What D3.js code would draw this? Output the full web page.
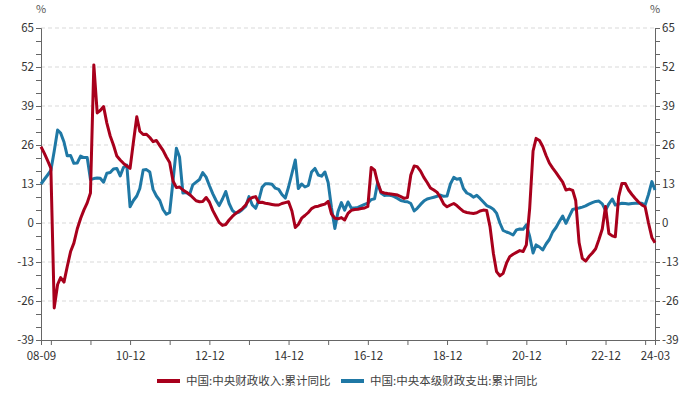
<!DOCTYPE html>
<html>
<head>
<meta charset="utf-8">
<script src="https://cdn.jsdelivr.net/npm/d3@7"></script>
<style>
  body { margin: 0; background: #fff; }
  svg text { font-family: "Microsoft YaHei", "Noto Sans CJK SC", "Open Sans", sans-serif; }
</style>
</head>
<body>
<div id="chart"></div>
<script>
// monthly series, 2008-09 .. 2024-03
const startMonth = '2008-09';
const endMonth = '2024-03';

const seriesNames = ['中国:中央财政收入:累计同比', '中国:中央本级财政支出:累计同比'];
const seriesColors = ['#a8001c', '#1f78a5'];

const revenue = [
	25.4, 23.3, 20.8, 18.3, -28.3, -20.5, -18.2, -19.7, -14.5, -9.5, -6.7, -2, 1.5, 4.3, 6.7, 10,
	52.7, 36.7, 37.5, 38.8, 33.3, 29, 26, 22.3, 21, 19.9, 19, 18.2,
	27, 35.4, 30.6, 29.5, 29.6, 28.5, 27.1, 27.5, 25.8, 24.2, 22, 20.2,
	14, 11.8, 12, 11, 10.3, 9.6, 8.5, 7.4, 7.1, 7.2, 8.5, 7,
	4.2, 2.1, 0.2, -0.8, -0.5, 1, 2.2, 3.2, 4, 4.8, 6, 7.8,
	8.5, 8.8, 6.8, 6.9, 6.6, 6.4, 6.2, 6, 6, 6.5, 6.8, 7.1,
	4, -1.5, -0.5, 1.6, 2.5, 3.5, 4.8, 5.4, 5.6, 6, 6.3, 7.2,
	3, 1.6, 1.4, 1.8, 1, 3.2, 4.2, 4.5, 4.6, 4.8, 5, 5.5,
	18.5, 17.6, 13.5, 10.4, 10, 9.8, 9.7, 9.5, 9.3, 8.8, 8.2, 8.5,
	16, 19, 18.8, 17.3, 15.2, 13.5, 11.7, 11, 10.2, 8.5, 6.3, 5.4,
	6, 6.5, 5.8, 4.8, 3.9, 3.5, 3.3, 3.2, 3.4, 4, 4.3, 4.2,
	-1.2, -10.1, -16.2, -17.6, -16.8, -13.4, -11.2, -10.4, -9.8, -9.2, -9.5, -7.3,
	5, 24, 28.2, 27.5, 25.5, 22.5, 20, 18.3, 16.8, 15.2, 13.6, 11,
	11.3, 10.9, 7.5, -6.5, -11.8, -12.7, -11.2, -10, -8.6, -5.5, -2, 5.5,
	-3.5, -4.3, -4.6, 8.8, 13.2, 13.2, 11, 9.5, 8.2, 7, 6, 5.4,
	0, -4.8, -6.6
];

const expenditure = [
	13, 14.5, 16, 17.5, 24, 31, 30, 27, 22.4, 22.5, 19.9, 20, 22.3, 21.8, 21.8, 14.5,
	14.8, 15, 14.9, 13.6, 16.6, 16.8, 18, 18.2, 15.7, 18.5, 19.3, 5.4,
	7.5, 9, 11.5, 17.7, 17.8, 17, 11.2, 9, 7.5, 4.5, 2.9, 3.5,
	14, 24.9, 22, 10, 10.2, 9.4, 12.7, 13.6, 14.5, 16.8, 15.3, 12.5,
	9.8, 7.5, 5.8, 8, 10.5, 6.5, 4.2, 3.2, 3.6, 4.5, 5.5, 8.8,
	6, 4.9, 7.5, 11.9, 13.1, 13.1, 12.9, 11.6, 11.2, 9.5, 8.3, 12,
	16.5, 21, 11.5, 13, 12, 12.5, 17, 18.2, 16, 15.6, 17, 13.5,
	5, -1.8, 3.8, 6.8, 4.3, 7, 5, 5, 5.2, 5.7, 6.2, 6.6,
	7.8, 8.1, 13.5, 10, 9.2, 9.3, 9.2, 8.8, 8.2, 7.5, 7.2, 7.1,
	6.5, 4, 4.9, 6.2, 7.3, 8, 8.3, 8.6, 8.9, 9.3, 8.9, 9,
	13, 15.2, 14.6, 14.8, 11.5, 10, 9.5, 8.6, 9.2, 8.2, 7, 5.8,
	5.3, 4.6, 3.3, 0, -2.5, -3, -3.4, -4, -2.3, -2, -2.1, -0.6,
	-4.5, -10, -7.3, -8, -9, -7, -5.5, -3, -1.5, 0.5, 2.3, -0.1,
	2.2, 4.5, 4.8, 5, 5.3, 5.7, 6.3, 6.8, 7.2, 7.3, 6.4, 4.2,
	6.4, 8, 6, 6.3, 6.6, 6.5, 6.3, 6.5, 6.6, 6.6, 6.6, 6,
	9.5, 13.8, 11
];

const yTicks = [-39, -26, -13, 0, 13, 26, 39, 52, 65];
const xTickLabels = ['08-09', '10-12', '12-12', '14-12', '16-12', '18-12', '20-12', '22-12', '24-03'];

//------------------------------------------------------------------------------
const W = 691, H = 397;
const margin = {t: 28, r: 36, b: 57, l: 41};

const parse = d3.timeParse('%Y-%m');
const fmt = d3.timeFormat('%y-%m');
const months = d3.timeMonth.range(parse(startMonth), d3.timeMonth.offset(parse(endMonth), 1));

const x = d3.scaleTime()
	.domain([months[0], months[months.length - 1]])
	.range([margin.l, W - margin.r]);
const y = d3.scaleLinear()
	.domain([-39, 65])
	.range([H - margin.b, margin.t]);

const svg = d3.select('#chart').append('svg')
	.attr('width', W)
	.attr('height', H);

// grid lines
svg.append('g').selectAll('line')
	.data(yTicks.filter(function(d) { return d > -39; }))
	.enter().append('line')
	.attr('x1', margin.l).attr('x2', W - margin.r)
	.attr('y1', function(d) { return y(d); })
	.attr('y2', function(d) { return y(d); })
	.attr('stroke', '#d9d9d9')
	.attr('stroke-dasharray', '4,3');

// y axes, minor ticks every 13/3
const yAll = d3.range(0, 25).map(function(k) { return -39 + k * 13 / 3; });
const yFormat = function(d) {
	const r = Math.round(d);
	return (Math.abs(d - r) < 1e-6 && r % 13 === 0) ? r : '';
};

const yl = svg.append('g')
	.attr('transform', 'translate(' + margin.l + ',0)')
	.call(d3.axisLeft(y).tickValues(yAll).tickFormat(yFormat).tickSize(5).tickPadding(2));
const yr = svg.append('g')
	.attr('transform', 'translate(' + (W - margin.r) + ',0)')
	.call(d3.axisRight(y).tickValues(yAll).tickFormat(yFormat).tickSize(5).tickPadding(2));

[yl, yr].forEach(function(g) {
	g.select('.domain').attr('stroke', '#666');
	g.selectAll('.tick line').attr('stroke', '#666');
	g.selectAll('.tick text').attr('fill', '#333').style('font-size', '11.5px');
});

// x axis: ticks at start, each December and the end
const xTicks = months.filter(function(d, i) {
	return i === 0 || i === months.length - 1 || d.getMonth() === 11;
});
const xa = svg.append('g')
	.attr('transform', 'translate(0,' + (H - margin.b) + ')')
	.call(d3.axisBottom(x).tickValues(xTicks).tickSize(5).tickPadding(7)
		.tickFormat(function(d) {
			const s = fmt(d);
			return xTickLabels.indexOf(s) >= 0 ? s : '';
		}));
xa.select('.domain').attr('stroke', '#666');
xa.selectAll('.tick line').attr('stroke', '#666');
xa.selectAll('.tick text').attr('fill', '#333').style('font-size', '11.5px');

// unit labels
svg.append('text').attr('x', margin.l).attr('y', 13)
	.attr('text-anchor', 'middle').attr('fill', '#555').style('font-size', '11px').text('%');
svg.append('text').attr('x', W - margin.r).attr('y', 13)
	.attr('text-anchor', 'middle').attr('fill', '#555').style('font-size', '11px').text('%');

// lines
const line = d3.line()
	.x(function(d, i) { return x(months[i]); })
	.y(function(d) { return y(d); });

[expenditure, revenue].forEach(function(s, k) {
	svg.append('path')
		.datum(s)
		.attr('fill', 'none')
		.attr('stroke', k === 0 ? seriesColors[1] : seriesColors[0])
		.attr('stroke-width', 3)
		.attr('stroke-linejoin', 'round')
		.attr('d', line);
});

// legend
const legend = [
	{x: 157, name: seriesNames[0], c: seriesColors[0]},
	{x: 341, name: seriesNames[1], c: seriesColors[1]}
];
const lg = svg.append('g').selectAll('g')
	.data(legend)
	.enter().append('g')
	.attr('transform', function(d) { return 'translate(' + d.x + ',381)'; });
lg.append('line')
	.attr('x1', 0).attr('x2', 23)
	.attr('stroke', function(d) { return d.c; })
	.attr('stroke-width', 4);
lg.append('text')
	.attr('x', 29).attr('dy', '0.35em')
	.attr('fill', '#404040')
	.style('font-size', '11.5px')
	.text(function(d) { return d.name; });
</script>
</body>
</html>
